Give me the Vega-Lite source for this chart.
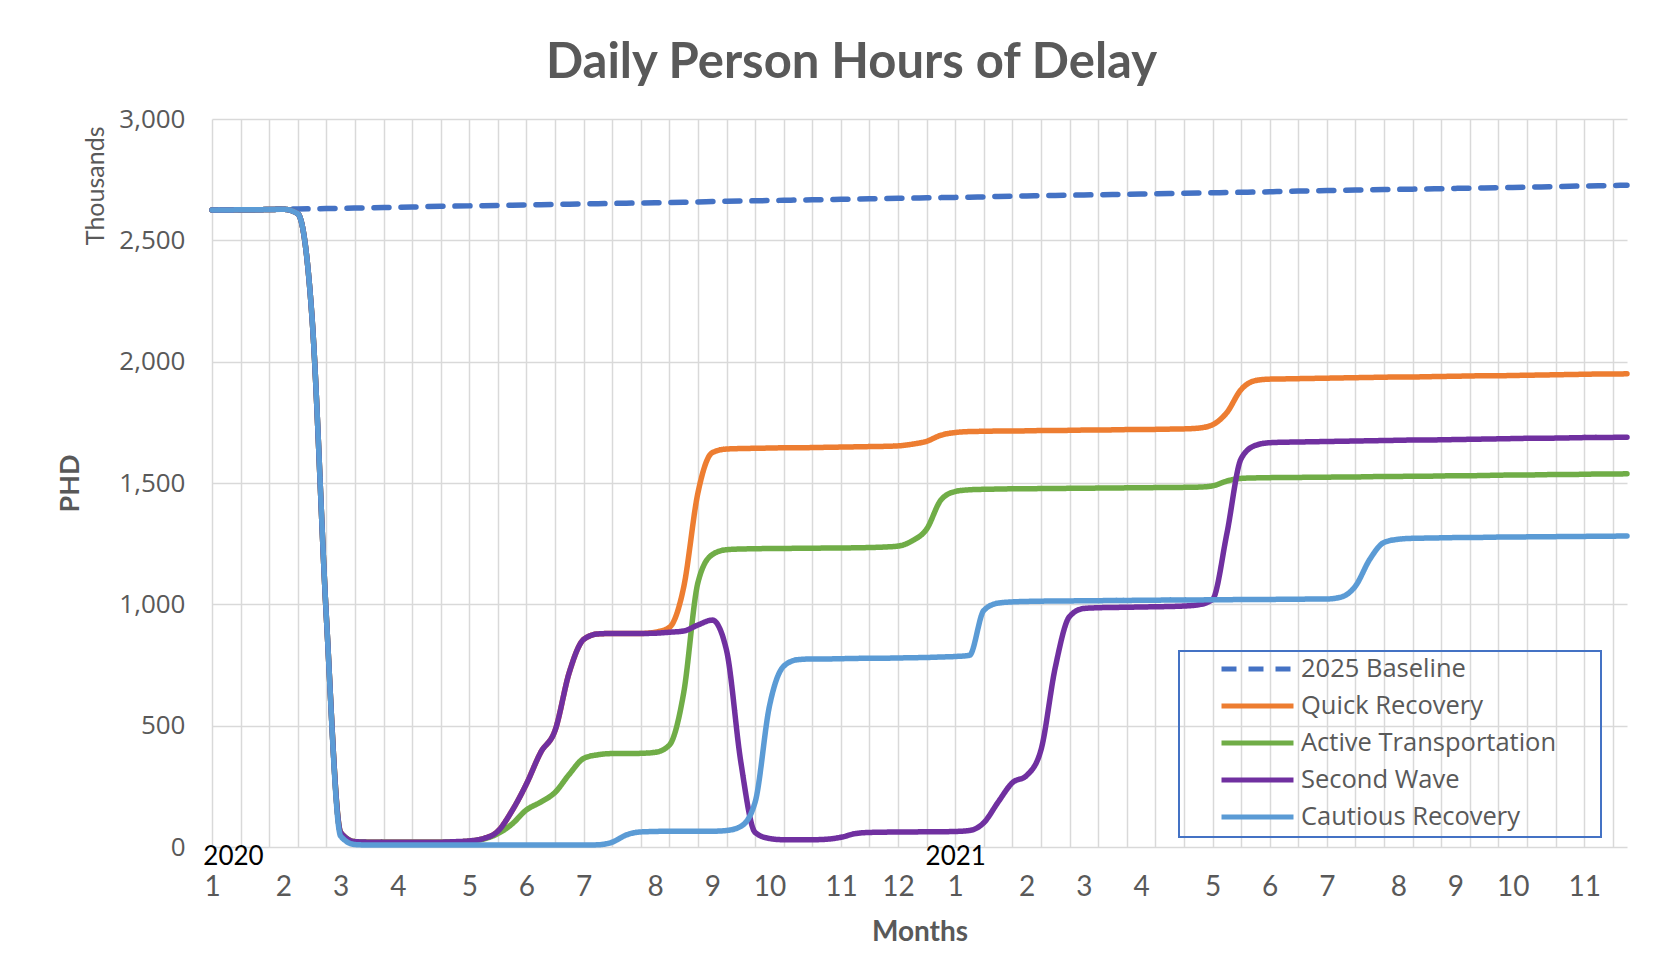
{
  "$schema": "https://vega.github.io/schema/vega-lite/v6.json",
  "width": 1415,
  "height": 728,
  "autosize": {"type": "none"},
  "padding": {"left": 212, "top": 119, "right": 47, "bottom": 125},
  "background": "white",
  "title": {"text": "Daily Person Hours of Delay", "font": "Lato", "fontSize": 49, "fontWeight": "bold", "color": "#595959", "anchor": "middle", "frame": "group", "offset": 18, "dx": -68},
  "datasets": {
    "names": [
      {"key": "baseline", "series": "2025 Baseline"},
      {"key": "quick", "series": "Quick Recovery"},
      {"key": "active", "series": "Active Transportation"},
      {"key": "second", "series": "Second Wave"},
      {"key": "cautious", "series": "Cautious Recovery"}
    ],
    "weeks": [
      {"w":0,"baseline":2625,"quick":2625,"active":2625,"second":2625,"cautious":2625},
      {"w":1,"baseline":2625,"quick":2625,"active":2625,"second":2625,"cautious":2625},
      {"w":2,"baseline":2626,"quick":2626,"active":2626,"second":2626,"cautious":2626},
      {"w":3,"baseline":2626,"quick":2626,"active":2626,"second":2626,"cautious":2626},
      {"w":4,"baseline":2627,"quick":2627,"active":2627,"second":2627,"cautious":2627},
      {"w":5,"baseline":2628,"quick":2628,"active":2628,"second":2628,"cautious":2628},
      {"w":6,"baseline":2629,"quick":2610,"active":2610,"second":2610,"cautious":2610},
      {"w":7,"baseline":2630,"quick":2180,"active":2180,"second":2180,"cautious":2180},
      {"w":8,"baseline":2631,"quick":950,"active":950,"second":950,"cautious":950},
      {"w":9,"baseline":2632,"quick":60,"active":60,"second":60,"cautious":45},
      {"w":10,"baseline":2633,"quick":22,"active":22,"second":22,"cautious":10},
      {"w":11,"baseline":2634,"quick":20,"active":20,"second":20,"cautious":8},
      {"w":12,"baseline":2635,"quick":20,"active":20,"second":20,"cautious":8},
      {"w":13,"baseline":2636,"quick":20,"active":20,"second":20,"cautious":8},
      {"w":14,"baseline":2637,"quick":20,"active":20,"second":20,"cautious":8},
      {"w":15,"baseline":2639,"quick":20,"active":20,"second":20,"cautious":8},
      {"w":16,"baseline":2640,"quick":20,"active":20,"second":20,"cautious":8},
      {"w":17,"baseline":2641,"quick":21,"active":21,"second":22,"cautious":8},
      {"w":18,"baseline":2642,"quick":24,"active":24,"second":25,"cautious":8},
      {"w":19,"baseline":2643,"quick":35,"active":33,"second":35,"cautious":8},
      {"w":20,"baseline":2644,"quick":65,"active":55,"second":65,"cautious":8},
      {"w":21,"baseline":2645,"quick":150,"active":95,"second":150,"cautious":8},
      {"w":22,"baseline":2646,"quick":260,"active":153,"second":260,"cautious":8},
      {"w":23,"baseline":2647,"quick":390,"active":185,"second":390,"cautious":8},
      {"w":24,"baseline":2648,"quick":480,"active":225,"second":480,"cautious":8},
      {"w":25,"baseline":2649,"quick":720,"active":300,"second":720,"cautious":8},
      {"w":26,"baseline":2650,"quick":855,"active":365,"second":855,"cautious":8},
      {"w":27,"baseline":2651,"quick":878,"active":380,"second":878,"cautious":9},
      {"w":28,"baseline":2652,"quick":880,"active":385,"second":880,"cautious":20},
      {"w":29,"baseline":2653,"quick":880,"active":385,"second":880,"cautious":50},
      {"w":30,"baseline":2654,"quick":880,"active":386,"second":880,"cautious":62},
      {"w":31,"baseline":2655,"quick":885,"active":390,"second":881,"cautious":64},
      {"w":32,"baseline":2656,"quick":905,"active":420,"second":885,"cautious":65},
      {"w":33,"baseline":2657,"quick":1070,"active":635,"second":890,"cautious":65},
      {"w":34,"baseline":2658,"quick":1460,"active":1090,"second":915,"cautious":65},
      {"w":35,"baseline":2660,"quick":1625,"active":1205,"second":935,"cautious":65},
      {"w":36,"baseline":2661,"quick":1640,"active":1225,"second":810,"cautious":68},
      {"w":37,"baseline":2662,"quick":1642,"active":1228,"second":350,"cautious":85},
      {"w":38,"baseline":2663,"quick":1643,"active":1229,"second":60,"cautious":185},
      {"w":39,"baseline":2664,"quick":1644,"active":1230,"second":35,"cautious":580},
      {"w":40,"baseline":2665,"quick":1645,"active":1230,"second":30,"cautious":745},
      {"w":41,"baseline":2666,"quick":1645,"active":1231,"second":30,"cautious":772},
      {"w":42,"baseline":2667,"quick":1646,"active":1231,"second":30,"cautious":775},
      {"w":43,"baseline":2668,"quick":1647,"active":1232,"second":32,"cautious":775},
      {"w":44,"baseline":2669,"quick":1648,"active":1232,"second":40,"cautious":776},
      {"w":45,"baseline":2670,"quick":1649,"active":1233,"second":55,"cautious":777},
      {"w":46,"baseline":2671,"quick":1650,"active":1234,"second":60,"cautious":778},
      {"w":47,"baseline":2672,"quick":1651,"active":1236,"second":61,"cautious":778},
      {"w":48,"baseline":2673,"quick":1653,"active":1240,"second":62,"cautious":779},
      {"w":49,"baseline":2674,"quick":1660,"active":1262,"second":62,"cautious":780},
      {"w":50,"baseline":2675,"quick":1672,"active":1310,"second":63,"cautious":781},
      {"w":51,"baseline":2676,"quick":1697,"active":1430,"second":63,"cautious":783},
      {"w":52,"baseline":2677,"quick":1708,"active":1465,"second":64,"cautious":785},
      {"w":53,"baseline":2678,"quick":1712,"active":1472,"second":68,"cautious":790},
      {"w":54,"baseline":2679,"quick":1713,"active":1474,"second":100,"cautious":975},
      {"w":55,"baseline":2681,"quick":1714,"active":1475,"second":185,"cautious":1005},
      {"w":56,"baseline":2682,"quick":1714,"active":1476,"second":265,"cautious":1010},
      {"w":57,"baseline":2683,"quick":1715,"active":1476,"second":295,"cautious":1012},
      {"w":58,"baseline":2684,"quick":1716,"active":1477,"second":400,"cautious":1013},
      {"w":59,"baseline":2685,"quick":1716,"active":1477,"second":740,"cautious":1014},
      {"w":60,"baseline":2686,"quick":1717,"active":1478,"second":950,"cautious":1014},
      {"w":61,"baseline":2687,"quick":1718,"active":1478,"second":983,"cautious":1015},
      {"w":62,"baseline":2688,"quick":1718,"active":1479,"second":986,"cautious":1015},
      {"w":63,"baseline":2689,"quick":1719,"active":1479,"second":987,"cautious":1016},
      {"w":64,"baseline":2690,"quick":1720,"active":1480,"second":988,"cautious":1016},
      {"w":65,"baseline":2691,"quick":1720,"active":1480,"second":989,"cautious":1017},
      {"w":66,"baseline":2692,"quick":1721,"active":1481,"second":990,"cautious":1017},
      {"w":67,"baseline":2693,"quick":1722,"active":1481,"second":991,"cautious":1018},
      {"w":68,"baseline":2694,"quick":1723,"active":1482,"second":993,"cautious":1018},
      {"w":69,"baseline":2695,"quick":1726,"active":1483,"second":998,"cautious":1018},
      {"w":70,"baseline":2696,"quick":1740,"active":1488,"second":1020,"cautious":1019},
      {"w":71,"baseline":2697,"quick":1790,"active":1508,"second":1290,"cautious":1019},
      {"w":72,"baseline":2698,"quick":1885,"active":1519,"second":1600,"cautious":1020},
      {"w":73,"baseline":2699,"quick":1922,"active":1521,"second":1655,"cautious":1020},
      {"w":74,"baseline":2700,"quick":1928,"active":1522,"second":1666,"cautious":1020},
      {"w":75,"baseline":2702,"quick":1929,"active":1523,"second":1668,"cautious":1021},
      {"w":76,"baseline":2703,"quick":1930,"active":1523,"second":1669,"cautious":1021},
      {"w":77,"baseline":2704,"quick":1931,"active":1524,"second":1670,"cautious":1022},
      {"w":78,"baseline":2705,"quick":1932,"active":1524,"second":1671,"cautious":1022},
      {"w":79,"baseline":2706,"quick":1933,"active":1525,"second":1672,"cautious":1030},
      {"w":80,"baseline":2707,"quick":1934,"active":1525,"second":1673,"cautious":1075},
      {"w":81,"baseline":2708,"quick":1935,"active":1526,"second":1674,"cautious":1185},
      {"w":82,"baseline":2709,"quick":1936,"active":1527,"second":1675,"cautious":1255},
      {"w":83,"baseline":2710,"quick":1937,"active":1527,"second":1676,"cautious":1268},
      {"w":84,"baseline":2711,"quick":1937,"active":1528,"second":1677,"cautious":1272},
      {"w":85,"baseline":2712,"quick":1938,"active":1528,"second":1677,"cautious":1273},
      {"w":86,"baseline":2713,"quick":1939,"active":1529,"second":1678,"cautious":1274},
      {"w":87,"baseline":2714,"quick":1940,"active":1530,"second":1679,"cautious":1275},
      {"w":88,"baseline":2715,"quick":1941,"active":1530,"second":1680,"cautious":1275},
      {"w":89,"baseline":2716,"quick":1942,"active":1531,"second":1681,"cautious":1276},
      {"w":90,"baseline":2717,"quick":1942,"active":1532,"second":1682,"cautious":1277},
      {"w":91,"baseline":2718,"quick":1943,"active":1533,"second":1683,"cautious":1277},
      {"w":92,"baseline":2719,"quick":1944,"active":1533,"second":1684,"cautious":1278},
      {"w":93,"baseline":2720,"quick":1945,"active":1534,"second":1684,"cautious":1278},
      {"w":94,"baseline":2721,"quick":1946,"active":1535,"second":1685,"cautious":1279},
      {"w":95,"baseline":2723,"quick":1947,"active":1535,"second":1686,"cautious":1280},
      {"w":96,"baseline":2724,"quick":1948,"active":1536,"second":1687,"cautious":1280},
      {"w":97,"baseline":2725,"quick":1949,"active":1537,"second":1687,"cautious":1281},
      {"w":98,"baseline":2726,"quick":1949,"active":1537,"second":1688,"cautious":1281},
      {"w":99,"baseline":2727,"quick":1950,"active":1538,"second":1689,"cautious":1282}
    ]
  },
  "data": {"name": "weeks"},
  "transform": [
    {"fold": ["baseline", "quick", "active", "second", "cautious"], "as": ["key", "PHD"]},
    {"lookup": "key", "from": {"data": {"name": "names"}, "key": "key", "fields": ["series"]}}
  ],
  "layer": [
    {
      "mark": {"type": "line", "strokeWidth": 5.5, "interpolate": "monotone", "strokeCap": "round", "strokeJoin": "round"},
      "encoding": {
        "x": {
          "field": "w", "type": "quantitative",
          "scale": {"domain": [0, 99], "nice": false, "zero": false},
          "axis": {"orient": "bottom", "values": [0,2,4,6,8,10,12,14,16,18,20,22,24,26,28,30,32,34,36,38,40,42,44,46,48,50,52,54,56,58,60,62,64,66,68,70,72,74,76,78,80,82,84,86,88,90,92,94,96,98], "grid": true, "gridColor": "#D9D9D9", "gridWidth": 1.5, "labels": false, "ticks": false, "domain": false, "title": null}
        },
        "y": {
          "field": "PHD", "type": "quantitative",
          "scale": {"domain": [0, 3000], "nice": false},
          "axis": {"orient": "left", "values": [0, 500, 1000, 1500, 2000, 2500, 3000], "labelExpr": "format(datum.value, ',')", "grid": true, "gridColor": "#D9D9D9", "gridWidth": 1.5, "ticks": false, "domain": false, "labelFont": "Open Sans", "labelFontSize": 26, "labelColor": "#595959", "labelPadding": 27, "title": "PHD", "titleFont": "Lato", "titleFontSize": 27, "titleFontWeight": "bold", "titleColor": "#595959", "titlePadding": 34}
        },
        "color": {
          "field": "series", "type": "nominal",
          "scale": {"domain": ["2025 Baseline", "Quick Recovery", "Active Transportation", "Second Wave", "Cautious Recovery"], "range": ["#4472C4", "#ED7D31", "#70AD47", "#7030A0", "#5B9BD5"]},
          "legend": {"orient": "none", "legendX": 967, "legendY": 532, "title": null, "symbolType": "stroke", "symbolStrokeWidth": 5, "symbolSize": 5184, "clipHeight": 24, "rowPadding": 11, "padding": 6, "symbolOffset": 34, "labelOffset": 5, "labelFont": "Open Sans", "labelFontSize": 25.5, "labelColor": "#595959", "labelLimit": 500, "strokeColor": "#4472C4", "labelExpr": "datum.label + '\u2800\u2800'"}
        },
        "strokeDash": {
          "field": "series", "type": "nominal",
          "scale": {"domain": ["2025 Baseline", "Quick Recovery", "Active Transportation", "Second Wave", "Cautious Recovery"], "range": [[15, 12], [1, 0], [1, 0], [1, 0], [1, 0]]},
          "legend": {"orient": "none", "legendX": 967, "legendY": 532, "title": null, "symbolType": "stroke", "symbolStrokeWidth": 5, "symbolSize": 5184, "clipHeight": 24, "rowPadding": 11, "padding": 6, "symbolOffset": 34, "labelOffset": 5, "labelFont": "Open Sans", "labelFontSize": 25.5, "labelColor": "#595959", "labelLimit": 500, "strokeColor": "#4472C4", "labelExpr": "datum.label + '\u2800\u2800'"}
        }
      }
    },
    {
      "mark": {"type": "point", "opacity": 0},
      "encoding": {
        "x": {
          "field": "w", "type": "quantitative",
          "axis": {"orient": "bottom", "values": [0,5,9,13,18,22,26,31,35,39,44,48,52,57,61,65,70,74,78,83,87,91,96], "labelExpr": "indexof([0,5,9,13,18,22,26,31,35,39,44,48,52,57,61,65,70,74,78,83,87,91,96], datum.value) % 12 + 1", "grid": false, "ticks": false, "domain": false, "labelFlush": false, "labelOverlap": false, "labelBound": false, "labelFont": "Lato", "labelFontSize": 28, "labelColor": "#595959", "labelPadding": 26, "title": "Months", "titleFont": "Lato", "titleFontSize": 28, "titleFontWeight": "bold", "titleColor": "#595959", "titlePadding": 17}
        },
        "y": {
          "field": "PHD", "type": "quantitative",
          "axis": {"orient": "left", "labels": false, "ticks": false, "domain": false, "grid": false, "title": "Thousands", "titleFont": "Lato", "titleFontSize": 25, "titleFontWeight": "normal", "titleColor": "#595959", "titleAnchor": "end", "titleY": 7, "titlePadding": 104}
        }
      }
    },
    {
      "mark": {"type": "point", "opacity": 0},
      "encoding": {
        "x": {
          "field": "w", "type": "quantitative",
          "axis": {"orient": "bottom", "values": [0, 52], "labelExpr": "datum.value == 0 ? '2020' : '2021'", "labelOffset": {"condition": {"test": "datum.value == 0", "value": 21}, "value": 0}, "grid": false, "ticks": false, "domain": false, "labelFlush": false, "labelOverlap": false, "labelBound": false, "labelFont": "Lato", "labelFontSize": 26, "labelColor": "#000000", "labelPadding": -4, "title": null}
        },
        "y": {"field": "PHD", "type": "quantitative", "axis": null}
      }
    }
  ],
  "resolve": {"axis": {"x": "independent", "y": "independent"}},
  "config": {
    "view": {"stroke": null},
    "font": "Lato",
    "legend": {"strokeWidth": 2}
  }
}
